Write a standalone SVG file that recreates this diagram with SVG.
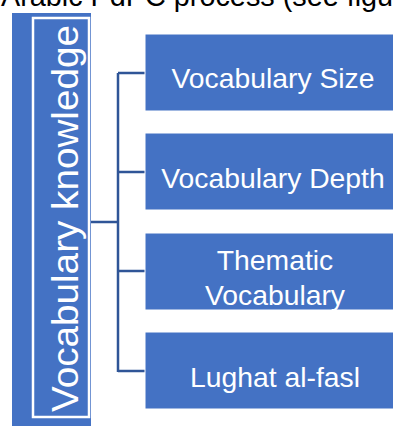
<svg xmlns="http://www.w3.org/2000/svg" width="393" height="426" viewBox="0 0 393 426">
<style>
.box{fill:#4472C4;stroke:#ffffff;stroke-width:1}
.lbl{font-family:"Liberation Sans",Arial,sans-serif;fill:#ffffff;font-size:28.3px;text-anchor:middle}
.conn{fill:none;stroke:#2F5597;stroke-width:2.5}
</style>
<rect x="0" y="0" width="393" height="426" fill="#ffffff"/>
<text x="1" y="6" font-family="Liberation Sans, Arial, sans-serif" font-size="28.8" fill="#000000">Arabic PdPC process (see figur</text>
<g id="root">
<rect x="12" y="13" width="79" height="414" fill="#4472C4"/>
<rect x="33" y="18" width="56" height="399" fill="#4472C4" stroke="#ffffff" stroke-width="2.5"/>
<text transform="translate(78,218.5) rotate(-90)" class="lbl" textLength="387" lengthAdjust="spacingAndGlyphs" style="font-size:37px">Vocabulary knowledge</text>
</g>
<g id="connectors">
<path class="conn" d="M91 222 H118 M118 73 V372 M118 73 H145 M118 172 H145 M118 271 H145 M118 371 H145"/>
</g>
<g id="n1">
<rect class="box" x="145" y="34" width="256" height="77"/>
<text class="lbl" x="273" y="88">Vocabulary Size</text>
</g>
<g id="n2">
<rect class="box" x="145" y="133" width="256" height="77"/>
<text class="lbl" x="273" y="188">Vocabulary Depth</text>
</g>
<g id="n3">
<rect class="box" x="145" y="233" width="256" height="77"/>
<text class="lbl" x="275" y="270">Thematic</text>
<text class="lbl" x="275" y="305">Vocabulary</text>
</g>
<g id="n4">
<rect class="box" x="145" y="332" width="256" height="77"/>
<text class="lbl" x="275" y="387">Lughat al-fasl</text>
</g>
</svg>
